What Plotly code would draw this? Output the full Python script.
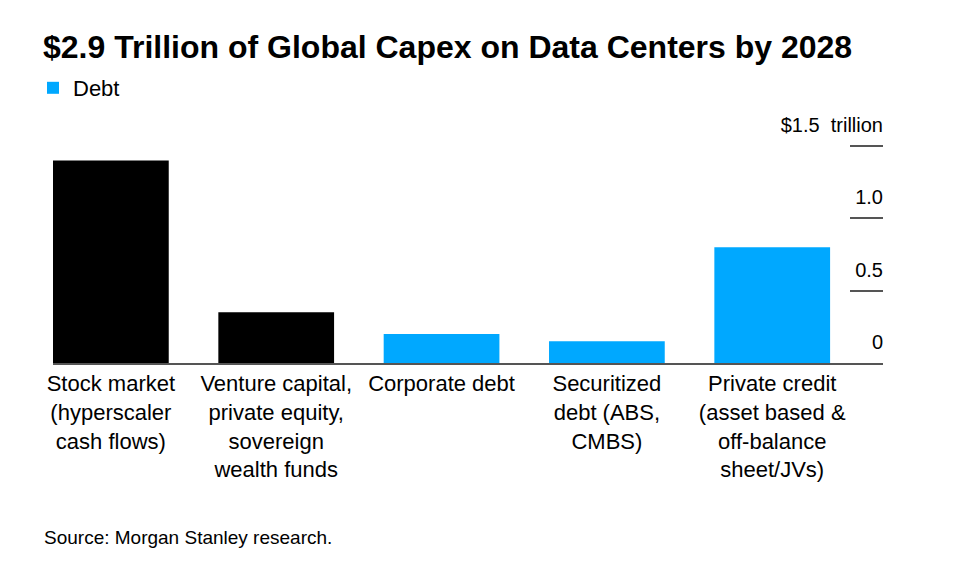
import plotly.graph_objects as go

categories = [
    "Stock market<br>(hyperscaler<br>cash flows)",
    "Venture capital,<br>private equity,<br>sovereign<br>wealth funds",
    "Corporate debt",
    "Securitized<br>debt (ABS,<br>CMBS)",
    "Private credit<br>(asset based &<br>off-balance<br>sheet/JVs)",
]
equity_categories = categories[:2]
equity_values = [1.4, 0.35]
debt_categories = categories[2:]
debt_values = [0.2, 0.15, 0.8]

y_tickvals = [0, 0.5, 1.0, 1.5]
y_ticktext = ["0", "0.5", "1.0", "$1.5  trillion"]

BLUE = "#00A8FF"
FONT = "Liberation Sans, Arial, sans-serif"

fig = go.Figure()
fig.add_trace(go.Bar(x=equity_categories, y=equity_values, marker=dict(color="#000000", line=dict(width=0)),
                     width=0.7, showlegend=False, name="Equity", hoverinfo="skip"))
fig.add_trace(go.Bar(x=debt_categories, y=debt_values, marker=dict(color=BLUE, line=dict(width=0)),
                     width=0.7, showlegend=True, name="Debt", hoverinfo="skip"))

W, H = 973, 575
OFF = 8  # page body margin
PX_PER_UNIT = 144.7
# desired screen positions
plot_left, plot_right, plot_top, plot_bottom = 53, 883, 70, 363
L = plot_left - OFF
R = W - (plot_right - OFF)
T = plot_top - OFF
B = H - (plot_bottom - OFF)
plot_h = H - T - B
plot_w = W - L - R

fig.update_layout(
    width=W, height=H,
    margin=dict(l=L, r=R, t=T, b=B, pad=0, autoexpand=False),
    paper_bgcolor="white", plot_bgcolor="white",
    barmode="overlay",
    font=dict(family=FONT, color="#000000", size=22),
    title=dict(text="<b>$2.9 Trillion of Global Capex on Data Centers by 2028</b>",
               xref="container", yref="container", x=(43 - OFF) / W, y=1 - (47 - OFF) / H,
               xanchor="left", yanchor="middle",
               font=dict(family=FONT, size=32, color="#000000")),
    legend=dict(orientation="h", xref="paper", yref="paper",
                x=(33 - plot_left) / plot_w, y=(plot_bottom - 88) / plot_h, xanchor="left", yanchor="middle",
                font=dict(size=22, family=FONT), itemwidth=30, bgcolor="rgba(0,0,0,0)"),
    xaxis=dict(type="category", categoryorder="array", categoryarray=categories,
               range=[-0.35, 4.67], showgrid=False, zeroline=False,
               showline=True, linecolor="#555555", linewidth=2,
               ticks="", tickfont=dict(size=22, family=FONT, color="#000000"),
               fixedrange=True),
    yaxis=dict(side="right", range=[0, (plot_bottom - plot_top) / PX_PER_UNIT],
               tickvals=y_tickvals, ticktext=y_ticktext,
               showgrid=False, zeroline=False, showline=False,
               ticks="inside", ticklen=33, tickwidth=2, tickcolor="#555555",
               ticklabelposition="inside top", ticklabeloverflow="allow",
               ticklabelshift=-6, ticklabelstandoff=-3,
               tickfont=dict(size=20, family=FONT, color="#000000"),
               fixedrange=True),
    annotations=[dict(text="Source: Morgan Stanley research.", xref="paper", yref="paper",
                      x=(42 - plot_left) / plot_w, y=(plot_bottom - 537) / plot_h,
                      xanchor="left", yanchor="middle",
                      showarrow=False, font=dict(size=19, family=FONT, color="#000000"))],
)

fig.write_html("out.html")
